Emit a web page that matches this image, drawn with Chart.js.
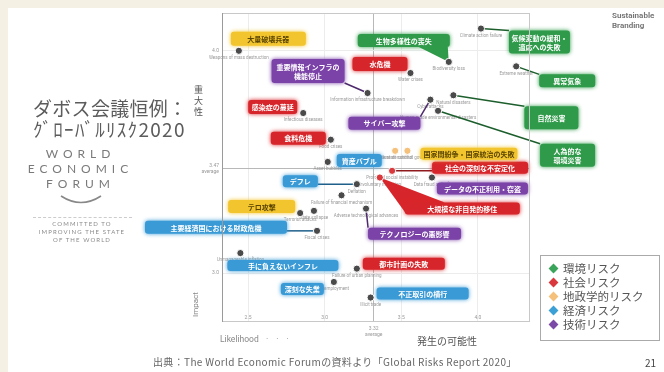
<!DOCTYPE html>
<html><head><meta charset="utf-8">
<script src="https://cdn.jsdelivr.net/npm/chart.js@4.4.0/dist/chart.umd.min.js"></script>
<style>
html,body{margin:0;padding:0}
body{width:664px;height:372px;overflow:hidden;position:relative;background:#fff;font-family:"Noto Sans CJK JP","Noto Sans",sans-serif}
.abs{position:absolute;white-space:nowrap}
#bgTop{left:0;top:0;width:664px;height:8px;background:#f4f1e4}
#bgLeft{left:0;top:0;width:8px;height:372px;background:#f4f1e4}
canvas{position:absolute;left:0;top:0}
.wef{font-family:Lato,"Open Sans",sans-serif;color:#7a7a7a;font-size:12px;letter-spacing:5px;padding-left:5px;text-align:center;width:130px;left:13px;box-sizing:border-box}
.leg{display:flex;align-items:center;height:14px;font-size:11.5px;color:#555;line-height:13px}
.dia{width:7px;height:7px;transform:rotate(45deg);margin:0 6px 0 9px}
</style></head>
<body>
<div class="abs" id="bgTop"></div>
<div class="abs" id="bgLeft"></div>
<canvas id="c" width="664" height="372"></canvas>

<div class="abs" style="left:33px;top:94px;font-size:19px;color:#5c5c5c;letter-spacing:0.3px">ダボス会議恒例：</div>
<div class="abs" style="left:33px;top:115px;font-size:19px;color:#5c5c5c;letter-spacing:1.3px">ｸﾞﾛｰﾊﾞﾙﾘｽｸ2020</div>

<div class="abs wef" style="top:146px">WORLD</div>
<div class="abs wef" style="top:161px">ECONOMIC</div>
<div class="abs wef" style="top:176px">FORUM</div>
<svg class="abs" style="left:58px;top:193px" width="46" height="14"><path d="M3 3 Q23 16 43 3" stroke="#888" stroke-width="1.6" fill="none"/></svg>
<div class="abs" style="left:33px;top:217px;width:99px;border-top:1px dashed #ccc"></div>
<div class="abs" style="left:22px;top:220px;width:120px;text-align:center;font-family:Lato,sans-serif;font-size:6px;line-height:8px;letter-spacing:1.1px;color:#8a8a8a">COMMITTED TO<br>IMPROVING THE STATE<br>OF THE WORLD</div>

<div class="abs" style="left:612px;top:11px;font-family:Roboto,sans-serif;font-size:8px;line-height:10px;font-weight:bold;color:#777">Sustainable<br>Branding</div>

<div class="abs" style="left:194px;top:84px;width:10px;font-size:9px;line-height:11px;color:#555;white-space:normal">重大性</div>
<div class="abs" style="left:183px;top:300px;font-family:Roboto,sans-serif;font-size:8px;color:#888;transform:rotate(-90deg)">Impact</div>
<div class="abs" style="left:220px;top:334px;font-family:Roboto,sans-serif;font-size:8.5px;color:#888">Likelihood <span style="letter-spacing:3px">&nbsp;· · ·</span></div>
<div class="abs" style="left:417px;top:333px;font-size:10px;color:#555">発生の可能性</div>

<div class="abs" id="legend" style="left:540px;top:255px;width:120px;height:86px;border:1px solid #aaa;padding-top:5px;box-sizing:border-box"></div>

<div class="abs" style="left:153px;top:354px;font-size:10px;letter-spacing:0.35px;color:#666">出典：The World Economic Forumの資料より「Global Risks Report 2020」</div>
<div class="abs" style="left:645px;top:355px;font-size:10px;color:#444">21</div>

<script>
// ===== DATA =====
const seriesNames = ['環境リスク','社会リスク','地政学的リスク','経済リスク','技術リスク'];

const envNames = ['気候変動の緩和・\n適応への失敗','生物多様性の喪失','異常気象','自然災害','人為的な\n環境災害'];
const envEn = ['Climate action failure','Biodiversity loss','Extreme weather','Natural disasters','Human-made environmental disasters'];
const envLikelihood = [4.02,3.81,4.25,3.84,3.74];
const envImpact = [4.10,3.95,3.93,3.80,3.73];

const socNames = ['水危機','感染症の蔓延','食料危機','社会の深刻な不安定化','大規模な非自発的移住','都市計画の失敗'];
const socEn = ['Water crises','Infectious diseases','Food crises','Profound social instability','Involuntary migration','Failure of urban planning'];
const socLikelihood = [3.56,2.86,3.04,3.44,3.36,3.21];
const socImpact = [3.90,3.72,3.60,3.46,3.43,3.02];

const geoNames = ['大量破壊兵器','','国家間紛争・国家統治の失敗','テロ攻撃',''];
const geoEn = ['Weapons of mass destruction','Interstate conflict','Failure of national governance','Terrorist attacks','State collapse'];
const geoLikelihood = [2.44,3.46,3.54,2.84,2.93];
const geoImpact = [4.00,3.55,3.55,3.27,3.28];

const ecoNames = ['資産バブル','デフレ','主要経済国における財政危機','手に負えないインフレ','深刻な失業','不正取引の横行',''];
const ecoEn = ['Asset bubbles','Deflation','Fiscal crises','Unmanageable inflation','Unemployment','Illicit trade','Failure of financial mechanism'];
const ecoLikelihood = [3.02,3.21,2.95,2.45,3.06,3.30,3.11];
const ecoImpact = [3.50,3.40,3.19,3.09,2.96,2.89,3.35];

const techNames = ['サイバー攻撃','重要情報インフラの\n機能停止','データの不正利用・窃盗','テクノロジーの悪影響'];
const techEn = ['Cyberattacks','Information infrastructure breakdown','Data fraud or theft','Adverse technological advances'];
const techLikelihood = [3.69,3.28,3.70,3.27];
const techImpact = [3.78,3.81,3.43,3.29];

const xTickValues = [2.5,3.0,3.5,4.0];
const yTickValues = [3.0,4.0];
const avgLikelihood = 3.32;
const avgImpact = 3.47;

// ===== LAYOUT / STYLE (label boxes relative to their point) =====
const envBoxes = [[28,2,61,23,'line'],[-91,-28,92,13,'tail',30],[23,8,56,13,'line'],[71,11,54,23,'line'],[102,33,55,23,'line']];
const socBoxes = [[-58,-16,55,14],[-55,-13,49,14],[-60,-8,55,13],[40,-9,96,12,'line'],[25,25,115,12,'tail',40],[6,-11,82,12]];
const geoBoxes = [[-8,-19,75,14],null,[13,-3,97,12],[-72,-13,67,13],null];
const ecoBoxes = [[9,-8,45,13],[-74,-9,35,12,'line'],[-172,-10,142,13,'line'],[-13,7,111,11],[-53,1,43,12],[6,-10,92,12],null];
const techBoxes = [[-82,17,72,13,'line'],[-96,-34,73,24,'line'],[5,5,91,12],[2,19,93,12,'line']];

const styles = [
  {box:'#2f9b4a', line:'#1c5e2c', text:'#ffffff', legend:'#3aa55a'},
  {box:'#d7262b', line:'#8f1a1d', text:'#ffffff', legend:'#d9383d'},
  {box:'#f2c52e', line:'#a88400', text:'#5b4500', legend:'#f4c07a'},
  {box:'#3a9ad6', line:'#1f5f8b', text:'#ffffff', legend:'#3ba0d6'},
  {box:'#7b43a8', line:'#4d2a6b', text:'#ffffff', legend:'#7b4aa6'}
];
const markerDark = '#4a4a4a';
const markerHighlight = [[],[3,4],[1,2],[],[]];

const groups = [
  {names:envNames,en:envEn,x:envLikelihood,y:envImpact,boxes:envBoxes},
  {names:socNames,en:socEn,x:socLikelihood,y:socImpact,boxes:socBoxes},
  {names:geoNames,en:geoEn,x:geoLikelihood,y:geoImpact,boxes:geoBoxes},
  {names:ecoNames,en:ecoEn,x:ecoLikelihood,y:ecoImpact,boxes:ecoBoxes},
  {names:techNames,en:techEn,x:techLikelihood,y:techImpact,boxes:techBoxes}
];

// legend (HTML)
const legEl = document.getElementById('legend');
seriesNames.forEach((n,i)=>{
  const d = document.createElement('div'); d.className='leg';
  d.innerHTML = '<span class="dia" style="background:'+styles[i].legend+'"></span>'+n;
  legEl.appendChild(d);
});

const datasets = groups.map((g,i)=>({
  label: seriesNames[i],
  data: g.x.map((v,k)=>({x:v,y:g.y[k]})),
  pointRadius: 3.6,
  pointBorderWidth: 1,
  pointBorderColor: '#ffffff',
  pointBackgroundColor: g.x.map((v,k)=> markerHighlight[i].includes(k) ? styles[i].legend : markerDark),
  showLine:false
}));

function rr(ctx,x,y,w,h,r){ctx.beginPath();ctx.moveTo(x+r,y);ctx.arcTo(x+w,y,x+w,y+h,r);ctx.arcTo(x+w,y+h,x,y+h,r);ctx.arcTo(x,y+h,x,y,r);ctx.arcTo(x,y,x+w,y,r);ctx.closePath();}
const clamp=(v,a,b)=>Math.max(a,Math.min(b,v));

const labelPlugin = {
  id:'labels',
  beforeDatasetsDraw(chart){
    const ctx = chart.ctx;
    groups.forEach((g,i)=>{
      const meta = chart.getDatasetMeta(i);
      const st = styles[i];
      meta.data.forEach((pt,k)=>{
        const px=pt.x, py=pt.y;
        ctx.save();
        ctx.font='4.5px Roboto, sans-serif';
        ctx.fillStyle='#9a9a9a';
        ctx.textAlign='center'; ctx.textBaseline='top';
        ctx.fillText(g.en[k], px, py+5);
        ctx.restore();
        const b = g.boxes[k];
        if(!b) return;
        const [dx,dy,w,h,conn,bw] = b;
        const x=px+dx, y=py+dy;
        const cx=clamp(px,x,x+w), cy=clamp(py,y,y+h);
        ctx.save();
        if(conn==='line'){
          ctx.strokeStyle=st.line; ctx.lineWidth=1.5;
          ctx.beginPath(); ctx.moveTo(px,py); ctx.lineTo(cx,cy); ctx.stroke();
        } else if(conn==='tail'){
          ctx.fillStyle=st.box;
          ctx.beginPath();
          const corner=(cx===x||cx===x+w)&&(cy===y||cy===y+h);
          if(corner){
            const sx = cx===x?1:-1, sy = cy===y?1:-1;
            ctx.moveTo(cx+sx*bw,cy); ctx.lineTo(cx,cy+sy*h*0.8); ctx.lineTo(px,py);
          } else if(cy===y||cy===y+h){
            ctx.moveTo(clamp(cx-bw,x+2,x+w-2),cy); ctx.lineTo(clamp(cx,x+2,x+w-2),cy); ctx.lineTo(px,py);
          } else {
            ctx.moveTo(cx,clamp(cy-4,y,y+h)); ctx.lineTo(cx,clamp(cy+4,y,y+h)); ctx.lineTo(px,py);
          }
          ctx.closePath(); ctx.fill();
        }
        ctx.shadowColor=st.box; ctx.shadowBlur=4;
        ctx.fillStyle=st.box;
        rr(ctx,x,y,w,h,3); ctx.fill();
        ctx.shadowBlur=0;
        ctx.fillStyle=st.text;
        ctx.font='bold 7px "Noto Sans CJK JP", sans-serif';
        ctx.textAlign='center'; ctx.textBaseline='middle';
        const lines=g.names[k].split('\n');
        const lh=9;
        lines.forEach((ln,j)=>ctx.fillText(ln, x+w/2, y+h/2+(j-(lines.length-1)/2)*lh+0.5));
        ctx.restore();
      });
    });
  },
  afterDraw(chart){
    const ctx=chart.ctx, a=chart.chartArea;
    const xs=chart.scales.x, ys=chart.scales.y;
    ctx.save();
    ctx.strokeStyle='#c8c8c8'; ctx.lineWidth=1;
    ctx.strokeRect(a.left+0.5,a.top+0.5,a.right-a.left-1,a.bottom-a.top-1);
    ctx.strokeStyle='#9a9a9a';
    ctx.beginPath(); ctx.moveTo(a.left+0.5,a.top); ctx.lineTo(a.left+0.5,a.bottom); ctx.stroke();
    ctx.font='5px Roboto, sans-serif'; ctx.fillStyle='#999';
    ctx.textAlign='center'; ctx.textBaseline='top';
    xTickValues.forEach(v=>ctx.fillText(v.toFixed(1), xs.getPixelForValue(v), a.bottom-7));
    ctx.fillText(avgLikelihood.toFixed(2), xs.getPixelForValue(avgLikelihood), a.bottom+4);
    ctx.fillText('average', xs.getPixelForValue(avgLikelihood), a.bottom+10);
    ctx.textAlign='right'; ctx.textBaseline='middle';
    yTickValues.forEach(v=>ctx.fillText(v.toFixed(1), a.left-3, ys.getPixelForValue(v)));
    ctx.fillText(avgImpact.toFixed(2), a.left-3, ys.getPixelForValue(avgImpact)-3);
    ctx.fillText('average', a.left-3, ys.getPixelForValue(avgImpact)+3);
    ctx.restore();
  }
};

const allX=[...xTickValues,avgLikelihood].sort((p,q)=>p-q);
const allY=[...yTickValues,avgImpact].sort((p,q)=>p-q);

new Chart(document.getElementById('c'),{
  type:'scatter',
  data:{datasets},
  options:{
    responsive:false, animation:false,
    layout:{padding:{left:222,right:134,top:13,bottom:50}},
    plugins:{legend:{display:false},tooltip:{enabled:false}},
    scales:{
      x:{type:'linear',min:2.33,max:4.34,
        afterBuildTicks:(ax)=>{ax.ticks=allX.map(v=>({value:v}));},
        ticks:{display:false},
        border:{display:false},
        grid:{drawTicks:false,color:(c)=>c.tick&&c.tick.value===avgLikelihood?'#b8b8b8':'#ececec'}},
      y:{type:'linear',min:2.78,max:4.17,
        afterBuildTicks:(ax)=>{ax.ticks=allY.map(v=>({value:v}));},
        ticks:{display:false},
        border:{display:false},
        grid:{drawTicks:false,color:(c)=>c.tick&&c.tick.value===avgImpact?'#b8b8b8':'#ececec'}}
    }
  },
  plugins:[labelPlugin]
});
</script>
</body></html>
